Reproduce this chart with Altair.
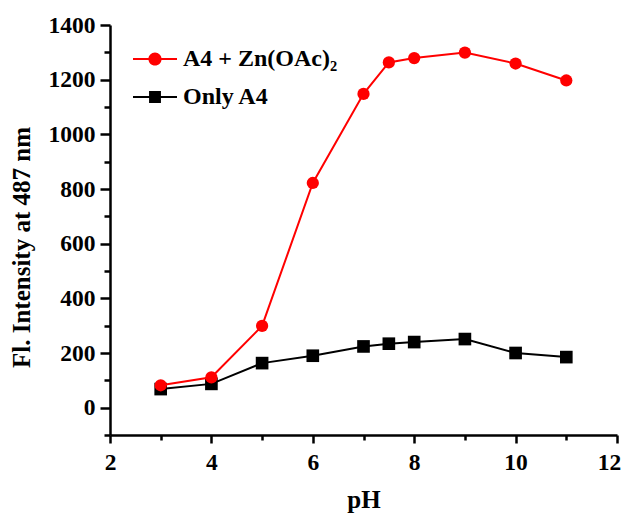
import altair as alt
import pandas as pd

ph = [3, 4, 5, 6, 7, 7.5, 8, 9, 10, 11]
zn_values = [82, 111, 299, 822, 1148, 1263, 1279, 1299, 1259, 1197]
only_values = [68, 87, 163, 190, 224, 234, 240, 251, 200, 185]
series_names = ["A4 + Zn(OAc)\u2082", "Only A4"]
series_colors = ["#ff0000", "#000000"]
x_ticks = [2, 3, 4, 5, 6, 7, 8, 9, 10, 11, 12]
y_ticks = [-100, 0, 100, 200, 300, 400, 500, 600, 700, 800, 900, 1000, 1100, 1200, 1300, 1400]

rows = []
for p, a, b in zip(ph, zn_values, only_values):
    rows.append({"pH": p, "value": a, "series": series_names[0]})
    rows.append({"pH": p, "value": b, "series": series_names[1]})
df = pd.DataFrame(rows)

FONT = "Liberation Serif"

x_enc = alt.X(
    "pH:Q",
    scale=alt.Scale(domain=[2, 12], nice=False, zero=False),
    axis=alt.Axis(
        title="pH",
        values=x_ticks,
        format="d",
        labelExpr="datum.value % 2 == 0 ? datum.label : ''",
        tickSize={"condition": {"test": "datum.value % 2 != 0", "value": 5}, "value": 8},
        labelOffset={"condition": {"test": "datum.value == 12", "value": -8}, "value": 0},
        labelPadding=7,
        titlePadding=14,
    ),
)
y_enc = alt.Y(
    "value:Q",
    scale=alt.Scale(domain=[-100, 1400], nice=False, zero=False),
    axis=alt.Axis(
        title="Fl. Intensity at 487 nm",
        values=y_ticks,
        format="d",
        labelExpr="datum.value % 200 == 0 ? datum.label : ''",
        tickSize={"condition": {"test": "datum.value % 200 != 0", "value": 6}, "value": 10},
        labelPadding=5,
        titlePadding=14,
        titleY=222,
    ),
)
color_scale = alt.Scale(domain=series_names, range=series_colors)

# legend glyphs: a short line with the marker on it (filled paths, clockwise)
circle_glyph = "M-1,-0.045H1V0.045H-1Z M-0.3,0A0.3,0.3 0 1,1 0.3,0A0.3,0.3 0 1,1 -0.3,0Z"
square_glyph = "M-1,-0.045H1V0.045H-1Z M-0.27,-0.27H0.27V0.27H-0.27Z"


def series_layers(i, shape, size):
    base = alt.Chart(df).transform_filter(alt.datum.series == series_names[i])
    line = base.mark_line(strokeWidth=2, color=series_colors[i]).encode(x=x_enc, y=y_enc)
    pts = base.mark_point(
        filled=True, opacity=1, size=size, shape=shape, color=series_colors[i]
    ).encode(x=x_enc, y=y_enc)
    return [line, pts]


legend_layer = alt.Chart(df).transform_filter("false").mark_point(
    filled=True, opacity=1, size=1936
).encode(
    x=x_enc,
    y=y_enc,
    color=alt.Color(
        "series:N",
        scale=color_scale,
        legend=alt.Legend(
            title=None,
            orient="none",
            legendX=23,
            legendY=12,
            padding=0,
            symbolSize=1936,
            symbolStrokeWidth=0,
            rowPadding=4,
            labelOffset=6,
            labelFont=FONT,
            labelFontSize=24,
            labelFontWeight="bold",
            labelColor="black",
        ),
    ),
    shape=alt.Shape(
        "series:N",
        scale=alt.Scale(domain=series_names, range=[circle_glyph, square_glyph]),
        legend=alt.Legend(title=None),
    ),
)

layers = series_layers(1, "square", 160) + series_layers(0, "circle", 150) + [legend_layer]

chart = (
    alt.layer(*layers)
    .properties(
        width=507,
        height=410,
        padding={"left": 102, "top": 17, "right": 5, "bottom": 90},
        autosize=alt.AutoSizeParams(type="none"),
    )
    .configure_view(stroke=None)
    .configure_axis(
        grid=False,
        domainColor="black",
        domainWidth=2.5,
        tickColor="black",
        tickWidth=2.5,
        labelFont=FONT,
        labelFontSize=23.5,
        labelFontWeight="bold",
        labelColor="black",
        titleFont=FONT,
        titleFontSize=25,
        titleFontWeight="bold",
        titleColor="black",
        labelFlush=False,
        labelOverlap=False,
    )
)

chart.save("out.html", embed_options={"renderer": "svg", "actions": False})
